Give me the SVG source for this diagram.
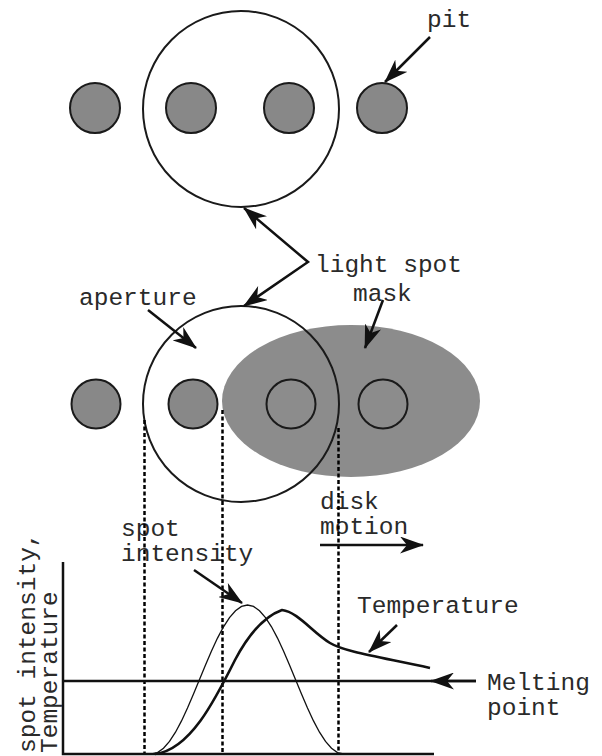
<svg xmlns="http://www.w3.org/2000/svg" width="602" height="756" viewBox="0 0 602 756">
<style>
  text { font-family: "Liberation Mono", "DejaVu Sans Mono", monospace; font-size: 24.5px; fill: #2a2a2a; }
  .pit { fill: #888; stroke: #1a1a1a; stroke-width: 2; }
  .ring { fill: none; stroke: #1a1a1a; stroke-width: 2; }
  .mask { fill: #8c8c8c; stroke: none; }
  .conn { fill: none; stroke: #111; stroke-width: 2.5; }
  .dash { fill: none; stroke: #000; stroke-width: 2.5; stroke-dasharray: 4 2.5; }
  .axis { fill: none; stroke: #111; stroke-width: 2.5; }
  .thin { fill: none; stroke: #111; stroke-width: 1.3; }
  .thick { fill: none; stroke: #111; stroke-width: 2.6; }
</style>
<defs>
  <marker id="ah" viewBox="0 0 24 17" refX="23" refY="8.5" markerWidth="24" markerHeight="17" markerUnits="userSpaceOnUse" orient="auto-start-reverse">
    <path d="M0,0 L24,8.5 L0,17 L7,8.5 Z" fill="#111"/>
  </marker>
</defs>
<rect width="602" height="756" fill="#fff"/>

<g id="top-row">
  <circle id="top-spot" class="ring" cx="241" cy="109" r="98"/>
  <circle id="top-pit1" class="pit" cx="95" cy="108" r="25"/>
  <circle id="top-pit2" class="pit" cx="191" cy="108" r="25"/>
  <circle id="top-pit3" class="pit" cx="289" cy="108" r="25"/>
  <circle id="top-pit4" class="pit" cx="382" cy="108" r="25"/>
</g>

<g id="bottom-row">
  <circle id="bot-pit1" class="pit" cx="96" cy="404" r="24.5"/>
  <circle id="bot-pit2" class="pit" cx="193" cy="404" r="24.5"/>
  <ellipse id="mask" class="mask" cx="351" cy="401" rx="129" ry="76"/>
  <circle id="bot-pit3" class="ring" cx="291" cy="404" r="24.5"/>
  <circle id="bot-pit4" class="ring" cx="383" cy="404" r="24.5"/>
  <circle id="aperture" class="ring" cx="241" cy="404" r="98"/>
</g>

<g id="labels">
  <text x="427" y="27">pit</text>
  <text x="315" y="272">light spot</text>
  <text x="353" y="301">mask</text>
  <text x="79" y="305">aperture</text>
  <text x="320" y="509">disk</text>
  <text x="320" y="534">motion</text>
  <text x="121" y="536">spot</text>
  <text x="121" y="561">intensity</text>
  <text x="357" y="613">Temperature</text>
  <text x="487" y="690">Melting</text>
  <text x="487" y="715">point</text>
  <text transform="translate(35,753) rotate(-90)">spot intensity,</text>
  <text transform="translate(57,753) rotate(-90)">Temperature</text>
</g>

<g id="graph">
  <path class="dash" d="M144.5,420 V754"/>
  <path class="dash" d="M222.5,410 V754"/>
  <path class="dash" d="M338.5,428 V754"/>
  <path class="axis" d="M63,562 V754 H434"/>
  <path class="axis" d="M63,681 H476"/>
  <polyline class="thin" points="151.5,754 157.5,752.6 163.5,748.3 169.5,741.4 175.5,732.2 181.5,720.9 187.5,708 193.5,694 199.5,679.5 205.5,665 211.5,651 217.5,638.1 223.5,626.8 229.5,617.6 235.5,610.7 241.5,606.4 247.5,605 253.5,606.4 259.5,610.7 265.5,617.6 271.5,626.8 277.5,638.1 283.5,651 289.5,665 295.5,679.5 301.5,694 307.5,708 313.5,720.9 319.5,732.2 325.5,741.4 331.5,748.3 337.5,752.6 343.5,754"/>
  <path class="thick" d="M155,754 C190,750 215,700 235,660 C252,628 268,615 282,610 C298,612 312,632 330,643 C345,652 380,657 430,668"/>
</g>

<g id="connectors">
  <path class="conn" d="M430,37 L385,82" marker-end="url(#ah)"/>
  <path class="conn" d="M244,208 L308,262 L244,306" marker-start="url(#ah)" marker-end="url(#ah)"/>
  <path class="conn" d="M148,310 L196,348" marker-end="url(#ah)"/>
  <path class="conn" d="M383,300 L365,348" marker-end="url(#ah)"/>
  <path class="conn" d="M320,545 L423,545" marker-end="url(#ah)"/>
  <path class="conn" d="M194,570 L242,603" marker-end="url(#ah)"/>
  <path class="conn" d="M397,625 L369,652" marker-end="url(#ah)"/>
  <path class="conn" d="M476,681 L431,681" marker-end="url(#ah)"/>
</g>
</svg>
